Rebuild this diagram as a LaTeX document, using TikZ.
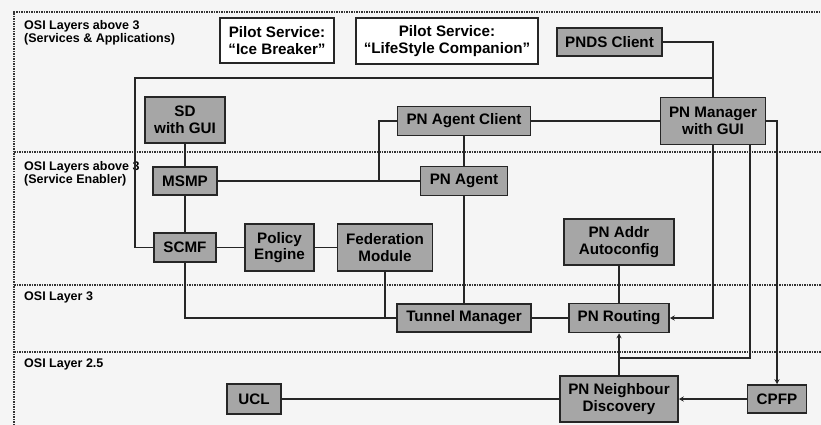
\documentclass[tikz,border=0pt]{standalone}
\usepackage{fontspec}
\setmainfont{Liberation Sans}
\usetikzlibrary{arrows.meta}
\begin{document}
\begin{tikzpicture}[x=1pt,y=-1pt,
 box/.style={draw=black!85, line width=1.5pt, fill=black!35, inner sep=0pt, align=center, font=\fontsize{15.2}{16.5}\selectfont\bfseries},
 wbox/.style={box, fill=white},
 lbl/.style={anchor=north west, inner sep=0pt, align=left, font=\fontsize{12.5}{13}\selectfont\bfseries},
 sep/.style={line width=1.3pt, black!80, dash pattern=on 1.5pt off 1pt},
 con/.style={line width=1.5pt, black!85},
 arr/.style={con, -{Stealth[open, length=5pt, width=5pt]}}
]
\fill[black!4] (0,0) rectangle (821,425);
\useasboundingbox (0,0) rectangle (821,425);
% frame and layer separators
\draw[sep] (14,425) -- (14,12) -- (821,12);
\draw[sep] (14,152) -- (821,152);
\draw[sep] (14,285) -- (821,285);
\draw[sep] (14,352) -- (821,352);
% layer labels
\node[lbl] (l1) at (24,20) {OSI Layers above 3\\(Services \& Applications)};
\node[lbl] (l2) at (24,161) {OSI Layers above 3\\(Service Enabler)};
\node[lbl] (l3) at (24,292) {OSI Layer 3};
\node[lbl] (l4) at (24,359) {OSI Layer 2.5};
% nodes
\node[wbox, minimum width=114pt, minimum height=45pt] (ice) at (277,40.5) {Pilot Service:\\``Ice Breaker''};
\node[wbox, minimum width=182pt, minimum height=46pt] (life) at (447,41) {Pilot Service:\\``LifeStyle Companion''};
\node[box, minimum width=105pt, minimum height=28pt] (pnds) at (609.5,42) {PNDS Client};
\node[box, minimum width=80pt, minimum height=46pt] (sd) at (185,120) {SD\\with GUI};
\node[box, minimum width=133pt, minimum height=29pt] (pnac) at (464,121) {PN Agent Client};
\node[box, minimum width=105pt, minimum height=47pt] (pnm) at (713,121) {PN Manager\\with GUI};
\node[box, minimum width=64pt, minimum height=28pt] (msmp) at (185,181) {MSMP};
\node[box, minimum width=87pt, minimum height=29pt] (pna) at (464,181) {PN Agent};
\node[box, minimum width=62pt, minimum height=29pt] (scmf) at (185,247.5) {SCMF};
\node[box, minimum width=69pt, minimum height=47pt] (pe) at (279.5,247.5) {Policy\\Engine};
\node[box, minimum width=95pt, minimum height=47pt] (fed) at (385,247.5) {Federation\\Module};
\node[box, minimum width=110pt, minimum height=46pt] (addr) at (619,242) {PN Addr\\Autoconfig};
\node[box, minimum width=134pt, minimum height=28pt] (tm) at (464,318) {Tunnel Manager};
\node[box, minimum width=100pt, minimum height=29pt] (rt) at (619,318) {PN Routing};
\node[box, minimum width=118pt, minimum height=46pt] (pnd) at (619,399) {PN Neighbour\\Discovery};
\node[box, minimum width=59pt, minimum height=28pt] (cpfp) at (777,399) {CPFP};
\node[box, minimum width=54pt, minimum height=30pt] (ucl) at (254,399) {UCL};
% junction coordinates
\coordinate (jtop) at (713,78);
\coordinate (jleft) at (135,78);
\coordinate (jagent) at (379,181);
\coordinate (jnd) at (619,358);
% connectors
\draw[con] (pnds.east) -| (pnm.north);
\draw[con] (scmf.west) -| (jleft) -- (jtop);
\draw[con] (sd.south) -- (msmp.north);
\draw[con] (msmp.south) -- (scmf.north);
\draw[con] (scmf.south) |- (tm.west);
\draw[con] (fed.south) -- (fed.south |- tm.west);
\draw[con] (scmf.east) -- (pe.west);
\draw[con] (pe.east) -- (fed.west);
\draw[con] (msmp.east) -- (pna.west);
\draw[con] (pnac.west) -| (jagent);
\draw[con] (pnac.south) -- (pna.north);
\draw[con] (pnac.east) -- (pnm.west);
\draw[con] (pna.south) -- (tm.north);
\draw[con] (tm.east) -- (rt.west);
\draw[con] (addr.south) -- (rt.north);
\draw[arr] (pnm.south) |- (rt.east);
\draw[con] ([xshift=37pt]pnm.south) |- (jnd);
\draw[arr] (pnd.north) -- (rt.south);
\draw[arr] (pnm.east) -| (cpfp.north);
\draw[arr] (cpfp.west) -- (pnd.east);
\draw[con] (ucl.east) -- (pnd.west);
\end{tikzpicture}
\end{document}
